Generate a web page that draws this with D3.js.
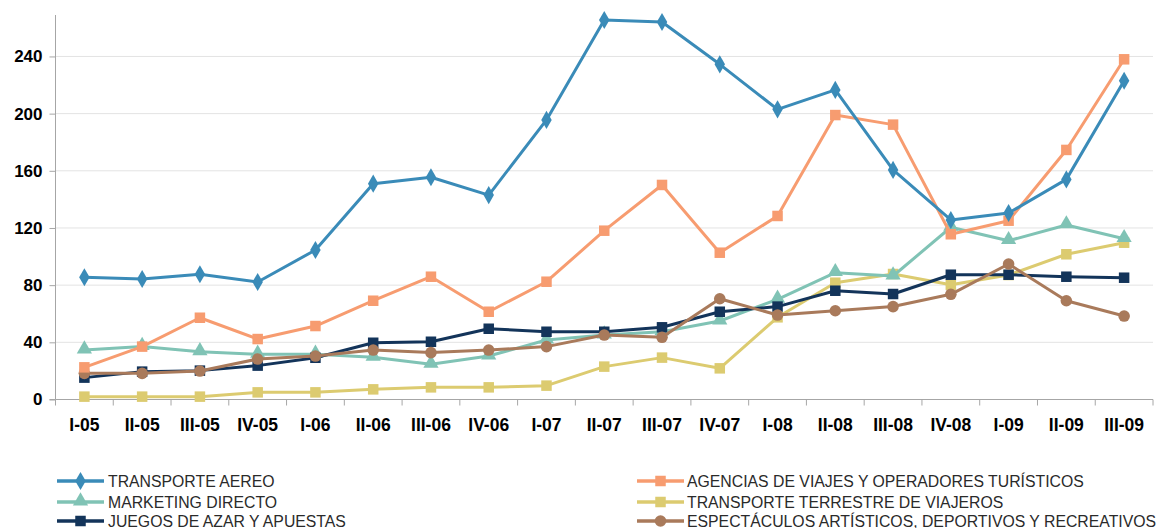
<!DOCTYPE html>
<html>
<head>
<meta charset="utf-8">
<script src="https://cdn.jsdelivr.net/npm/d3@7"></script>
<style>
  body { margin: 0; background: #fff; }
  svg { display: block; font-family: "Liberation Sans", Arial, sans-serif; }
</style>
</head>
<body>
<svg id="chart" width="1163" height="528"></svg>
<script>
// categorias (trimestres)
var quarters = ["I-05","II-05","III-05","IV-05","I-06","II-06","III-06","IV-06","I-07","II-07","III-07","IV-07","I-08","II-08","III-08","IV-08","I-09","II-09","III-09"];
var yTicks = [0, 40, 80, 120, 160, 200, 240];

var transporteAereo = [85.5, 84.3, 87.6, 82.2, 104.6, 151, 155.5, 143, 195.6, 265.5, 264.1, 234.5, 203, 216.6, 160.6, 125.6, 130.5, 154, 223];
var agencias        = [22.5, 37, 57.2, 42.3, 51.4, 69.1, 85.9, 61.4, 82.4, 118.1, 150.1, 102.7, 128.4, 199, 192.3, 115.6, 125.1, 174.6, 238];
var marketing       = [34.6, 37, 33.4, 31.6, 31.6, 29.5, 24.6, 30.4, 41.6, 45.1, 47.4, 54.9, 70.1, 88.7, 86.4, 120.5, 111.1, 122.1, 112.5];
var terrestre       = [2, 2, 2, 5, 5, 7.1, 8.5, 8.5, 9.7, 23, 29.3, 21.8, 57.5, 81.7, 87.8, 80.3, 87.1, 101.6, 109.7];
var juegos          = [15.3, 19.5, 20.2, 23.7, 29.2, 39.7, 40.4, 49.5, 47.4, 47.4, 50.5, 61.4, 65, 76.1, 73.8, 87.3, 87.3, 85.9, 85.2];
var espectaculos    = [18.3, 18.3, 19.9, 28.3, 30.4, 34.6, 32.8, 34.6, 37, 45.1, 43.5, 70.5, 59.1, 62.1, 65, 73.6, 94.8, 69.1, 58.4];

var series = [
  {name: "TRANSPORTE AEREO", values: transporteAereo, color: "#3a8bb8", marker: "diamond", col: 0, row: 0},
  {name: "MARKETING DIRECTO", values: marketing, color: "#80c3b5", marker: "triangle", col: 0, row: 1},
  {name: "JUEGOS DE AZAR Y APUESTAS", values: juegos, color: "#13345a", marker: "square", col: 0, row: 2},
  {name: "AGENCIAS DE VIAJES Y OPERADORES TURÍSTICOS", values: agencias, color: "#f79c70", marker: "square", col: 1, row: 0},
  {name: "TRANSPORTE TERRESTRE DE VIAJEROS", values: terrestre, color: "#dccb70", marker: "square", col: 1, row: 1},
  {name: "ESPECTÁCULOS ARTÍSTICOS, DEPORTIVOS Y RECREATIVOS", values: espectaculos, color: "#a97a5b", marker: "circle", col: 1, row: 2}
];
// orden de dibujo (la de abajo primero)
var drawOrder = [4, 1, 2, 5, 3, 0];

var svg = d3.select("#chart");
var plotL = 55.5, plotR = 1153, plotT = 15, plotB = 399.5;

var x = d3.scaleBand().domain(quarters).range([plotL, plotR]);
var y = d3.scaleLinear().domain([0, 269]).range([plotB, plotT]);

// rejilla
svg.append("g").selectAll("line").data(yTicks.slice(1)).enter().append("line")
  .attr("x1", plotL).attr("x2", plotR)
  .attr("y1", function(d){ return y(d); }).attr("y2", function(d){ return y(d); })
  .attr("stroke", "#e3e3e3").attr("stroke-width", 1);

// eje y
var yAxis = svg.append("g").attr("transform", "translate(" + plotL + ",0)")
  .call(d3.axisLeft(y).tickValues(yTicks).tickSize(6).tickPadding(7));
yAxis.select(".domain").attr("stroke", "#a6a6a6").attr("d", "M-6," + plotB + "H0V" + plotT);
yAxis.selectAll(".tick line").attr("stroke", "#a6a6a6");
yAxis.selectAll("text").attr("font-size", 17).attr("font-weight", "bold").attr("fill", "#000")
  .attr("font-family", "Liberation Sans, Arial, sans-serif");

// eje x
var xAxis = svg.append("g").attr("transform", "translate(0," + plotB + ")")
  .call(d3.axisBottom(x).tickSize(0).tickPadding(19));
xAxis.select(".domain").attr("stroke", "#a6a6a6").attr("d", "M" + plotL + ",0H" + plotR);
xAxis.selectAll("text").attr("font-size", 17.5).attr("font-weight", "bold").attr("fill", "#000")
  .attr("font-family", "Liberation Sans, Arial, sans-serif");
// marcas entre categorias
svg.append("g").selectAll("line").data(quarters.concat(["_end"])).enter().append("line")
  .attr("x1", function(d, i){ return plotL + i * x.bandwidth(); })
  .attr("x2", function(d, i){ return plotL + i * x.bandwidth(); })
  .attr("y1", plotB).attr("y2", plotB + 6)
  .attr("stroke", "#a6a6a6");

function cx(i){ return x(quarters[i]) + x.bandwidth() / 2; }

function drawMarker(g, type, px, py, color, scale){
  var s = scale || 1;
  if (type === "diamond") {
    g.append("path").attr("d", d3.symbol().type(d3.symbolDiamond).size(95 * s)())
      .attr("transform", "translate(" + px + "," + py + ")").attr("fill", color);
  } else if (type === "triangle") {
    g.append("path").attr("d", d3.symbol().type(d3.symbolTriangle).size(100 * s)())
      .attr("transform", "translate(" + px + "," + (py - 1) + ")").attr("fill", color);
  } else if (type === "square") {
    var w = 10.5 * Math.sqrt(s);
    g.append("rect").attr("x", px - w / 2).attr("y", py - w / 2).attr("width", w).attr("height", w).attr("fill", color);
  } else {
    g.append("circle").attr("cx", px).attr("cy", py).attr("r", 5.8 * Math.sqrt(s)).attr("fill", color);
  }
}

var line = d3.line().x(function(d, i){ return cx(i); }).y(function(d){ return y(d); });

drawOrder.forEach(function(k){
  var s = series[k];
  var g = svg.append("g");
  g.append("path").datum(s.values).attr("d", line)
    .attr("fill", "none").attr("stroke", s.color).attr("stroke-width", 3).attr("stroke-linejoin", "round");
  s.values.forEach(function(v, i){ drawMarker(g, s.marker, cx(i), y(v), s.color); });
});

// leyenda
var legCols = [{x1: 57, x2: 104, tx: 108}, {x1: 637, x2: 684, tx: 687}];
var legRows = [481, 502, 521];
series.forEach(function(s){
  var c = legCols[s.col], ly = legRows[s.row];
  var g = svg.append("g");
  g.append("line").attr("x1", c.x1).attr("x2", c.x2).attr("y1", ly).attr("y2", ly)
    .attr("stroke", s.color).attr("stroke-width", 3.5);
  drawMarker(g, s.marker, (c.x1 + c.x2) / 2, ly, s.color, 1);
  g.append("text").attr("x", c.tx).attr("y", ly + 5.5).text(s.name)
    .attr("font-size", 15.8).attr("fill", "#2a2a2a");
});
</script>
</body>
</html>
